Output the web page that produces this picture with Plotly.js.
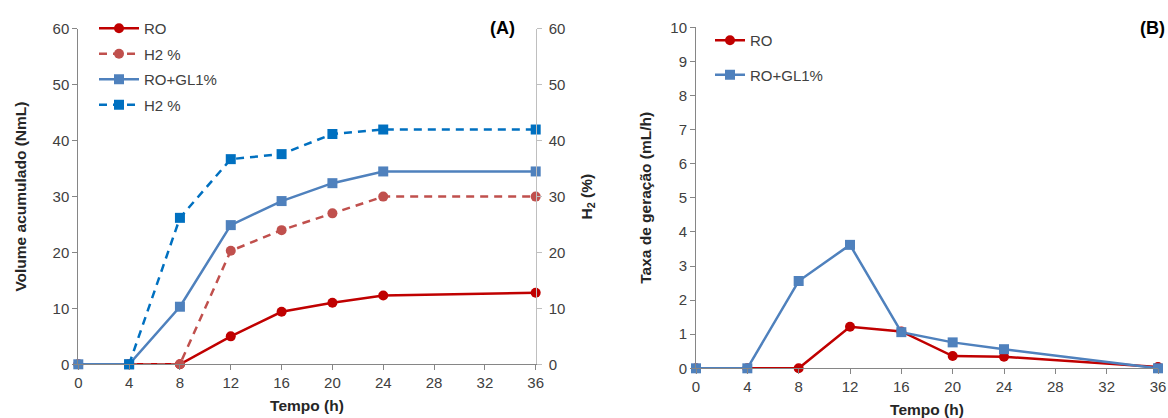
<!DOCTYPE html>
<html>
<head>
<meta charset="utf-8">
<script src="https://cdn.plot.ly/plotly-3.0.1.min.js"></script>
<style>
  html, body { margin: 0; padding: 0; background: #fff; }
  #chart { width: 1168px; height: 418px; }
</style>
</head>
<body>
<div id="chart"></div>
<script>
// ---- Data ----
const tempoA = [0, 4, 8, 12, 16, 20, 24, 36];
const tempoH2 = [4, 8, 12, 16, 20, 24, 36];
const roVolume = [0, 0, 0, 5.0, 9.4, 11.0, 12.3, 12.8];
const roH2 = [0, 0, 20.3, 24.0, 27.0, 30.0, 30.0];
const roGlVolume = [0, 0, 10.3, 24.9, 29.2, 32.4, 34.5, 34.5];
const roGlH2 = [0, 26.2, 36.7, 37.6, 41.2, 42.0, 42.0];

const tempoB = [0, 4, 8, 12, 16, 20, 24, 36];
const roTaxa = [0, 0, 0, 1.22, 1.08, 0.36, 0.34, 0.04];
const roGlTaxa = [0, 0, 2.56, 3.62, 1.06, 0.76, 0.56, 0];

const xTicks = [0, 4, 8, 12, 16, 20, 24, 28, 32, 36];

// ---- Styles ----
const cRed = '#C00000', cRedD = '#C0504D', cBlue = '#4F81BD', cBlueD = '#0070C0';
const fontFam = 'Liberation Sans, Arial, sans-serif';
const tickFont = { family: fontFam, size: 15, color: '#404040' };
const titleFont = { family: fontFam, size: 15.5, color: '#262626', weight: 'bold' };
const legFont = { family: fontFam, size: 15, color: '#404040' };

const traces = [
  { x: tempoA, y: roVolume, name: 'RO', xaxis: 'x', yaxis: 'y', mode: 'lines+markers',
    line: { color: cRed, width: 2.5 }, marker: { symbol: 'circle', size: 10, color: cRed },
    legend: 'legend', legendgroup: 'a1', cliponaxis: false },
  { x: tempoH2, y: roH2, name: 'H2 %', xaxis: 'x', yaxis: 'y2', mode: 'lines+markers',
    line: { color: cRedD, width: 2.5, dash: '8px,6px' }, marker: { symbol: 'circle', size: 10, color: cRedD },
    legend: 'legend', legendgroup: 'a2', cliponaxis: false },
  { x: tempoA, y: roGlVolume, name: 'RO+GL1%', xaxis: 'x', yaxis: 'y', mode: 'lines+markers',
    line: { color: cBlue, width: 2.5 }, marker: { symbol: 'square', size: 10, color: cBlue },
    legend: 'legend', legendgroup: 'a3', cliponaxis: false },
  { x: tempoH2, y: roGlH2, name: 'H2 %', xaxis: 'x', yaxis: 'y2', mode: 'lines+markers',
    line: { color: cBlueD, width: 2.5, dash: '8px,6px' }, marker: { symbol: 'square', size: 10, color: cBlueD },
    legend: 'legend', legendgroup: 'a4', cliponaxis: false },
  { x: tempoB, y: roTaxa, name: 'RO', xaxis: 'x2', yaxis: 'y3', mode: 'lines+markers',
    line: { color: cRed, width: 2.5 }, marker: { symbol: 'circle', size: 10, color: cRed },
    legend: 'legend2', legendgroup: 'b1', cliponaxis: false },
  { x: tempoB, y: roGlTaxa, name: 'RO+GL1%', xaxis: 'x2', yaxis: 'y3', mode: 'lines+markers',
    line: { color: cBlue, width: 2.5 }, marker: { symbol: 'square', size: 10, color: cBlue },
    legend: 'legend2', legendgroup: 'b2', cliponaxis: false }
];

const W = 1168, H = 418;
const fx = p => p / W;
const fy = p => (H - p) / H;

function xAx(domain, anchor) {
  return {
    domain: domain, anchor: anchor, range: [0, 36], tickmode: 'array', tickvals: xTicks,
    ticktext: xTicks.map(String), ticks: 'outside', ticklen: 5, tickcolor: '#868686',
    showline: true, linecolor: '#868686', linewidth: 1, showgrid: false, zeroline: false,
    tickfont: tickFont, title: { text: 'Tempo (h)', font: titleFont, standoff: 9 }
  };
}

const layout = {
  width: W, height: H,
  margin: { l: 0, r: 0, t: 0, b: 0 },
  paper_bgcolor: '#fff', plot_bgcolor: '#fff',
  showlegend: true,
  xaxis: xAx([fx(78.3), fx(535.7)], 'y'),
  yaxis: {
    domain: [fy(364.3), fy(28.9)], anchor: 'x', range: [0, 60], dtick: 10, tick0: 0,
    ticks: 'outside', ticklen: 5, tickcolor: '#868686', showline: true, linecolor: '#868686',
    showgrid: false, zeroline: false, tickfont: tickFont,
    title: { text: 'Volume acumulado (NmL)', font: titleFont, standoff: 22 }
  },
  yaxis2: {
    overlaying: 'y', side: 'right', anchor: 'x', range: [0, 60], dtick: 10, tick0: 0,
    ticks: 'outside', ticklen: 5, tickcolor: '#BFBFBF', showline: true, linecolor: '#BFBFBF',
    showgrid: false, zeroline: false, tickfont: tickFont, ticklabelstandoff: 4,
    title: { text: 'H<sub>2</sub> (%)', font: titleFont, standoff: 16 }
  },
  xaxis2: xAx([fx(696), fx(1158)], 'y3'),
  yaxis3: {
    domain: [fy(368.3), fy(27.3)], anchor: 'x2', range: [0, 10], dtick: 1, tick0: 0,
    ticks: 'outside', ticklen: 5, tickcolor: '#868686', showline: true, linecolor: '#868686',
    showgrid: false, zeroline: false, tickfont: tickFont,
    title: { text: 'Taxa de geração (mL/h)', font: titleFont, standoff: 14 }
  },
  legend: {
    x: fx(94), y: fy(12), xanchor: 'left', yanchor: 'top', bgcolor: 'rgba(0,0,0,0)',
    font: legFont, traceorder: 'grouped', tracegroupgap: 3, itemwidth: 40
  },
  legend2: {
    x: fx(710), y: fy(24), xanchor: 'left', yanchor: 'top', bgcolor: 'rgba(0,0,0,0)',
    font: legFont, traceorder: 'grouped', tracegroupgap: 12, itemwidth: 30
  },
  annotations: [
    { text: '(A)', x: fx(502), y: fy(28), xref: 'paper', yref: 'paper', showarrow: false,
      font: { family: fontFam, size: 18, color: '#000', weight: 'bold' }, xanchor: 'center', yanchor: 'middle' },
    { text: '(B)', x: fx(1152), y: fy(28), xref: 'paper', yref: 'paper', showarrow: false,
      font: { family: fontFam, size: 18, color: '#000', weight: 'bold' }, xanchor: 'center', yanchor: 'middle' }
  ]
};

Plotly.newPlot('chart', traces, layout, { staticPlot: true, displayModeBar: false });
</script>
</body>
</html>
